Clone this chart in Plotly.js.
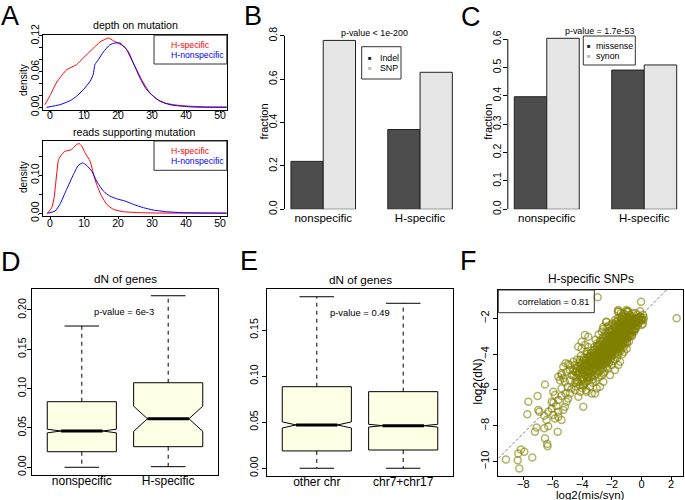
<!DOCTYPE html>
<html><head><meta charset="utf-8">
<script src="https://cdn.plot.ly/plotly-3.0.1.min.js"></script>
<style>html,body{margin:0;padding:0;background:#fff}#chart{width:685px;height:500px}</style>
</head><body><div id="chart"></div>
<script>
// ================= DATA =================
// Panel A: density of depth on mutation
const depthHX = [-1.5, 0, 2.0, 4.9, 7.8, 9.8, 12.3, 14.7, 17.2, 18.6, 20.6, 22.1, 23.5, 25.5, 27.5, 29.4, 31.4, 33.8, 37.3, 41.2, 46.1, 52];
const depthHY = [0.0047, 0.02, 0.0427, 0.0633, 0.0717, 0.083, 0.0968, 0.1097, 0.1164, 0.112, 0.106, 0.1008, 0.0857, 0.0633, 0.041, 0.0243, 0.0142, 0.0075, 0.004, 0.0022, 0.001, 0.0008];
const depthNX = [-1, 2.9, 5.9, 7.8, 9.8, 11.8, 12.7, 13.2, 14.2, 15.7, 17.6, 19.1, 20.6, 22.1, 23, 24.5, 26.5, 28.4, 30.4, 32.4, 35.3, 38.2, 42.2, 52];
const depthNY = [0.0003, 0.0047, 0.0114, 0.0188, 0.0298, 0.0439, 0.055, 0.0717, 0.08, 0.093, 0.105, 0.108, 0.108, 0.0997, 0.094, 0.0745, 0.049, 0.030, 0.0188, 0.0104, 0.0047, 0.0025, 0.0008, 0.0003];
// Panel A: density of reads supporting mutation
const readsHX = [-0.8, 0.5, 1.2, 2.0, 2.5, 3.4, 4.4, 5.9, 6.9, 7.8, 8.6, 9.3, 10.3, 11.8, 12.7, 13.7, 15.2, 16.7, 18.6, 21.6, 26.5, 31.4, 52];
const readsHY = [0, 0.0147, 0.041, 0.106, 0.141, 0.154, 0.163, 0.166, 0.172, 0.181, 0.183, 0.177, 0.159, 0.137, 0.106, 0.076, 0.045, 0.0235, 0.0105, 0.0042, 0.0017, 0.0008, 0.0003];
const readsNX = [-0.8, 1.5, 2.9, 4.9, 6.9, 8.3, 9.6, 10.8, 12.3, 13.7, 15.7, 17.6, 19.6, 22.1, 24.5, 27.5, 30.4, 34.3, 39.2, 52];
const readsNY = [0, 0.006, 0.0235, 0.063, 0.102, 0.1256, 0.1325, 0.1256, 0.1107, 0.0846, 0.0584, 0.0453, 0.0382, 0.0322, 0.0236, 0.0147, 0.0086, 0.0042, 0.0017, 0.0005];
const aXTicks = [0, 10, 20, 30, 40, 50];
const aTopTicks = [0, 0.02, 0.04, 0.06, 0.08, 0.10, 0.12];
const aTopTickText = ['0.00', '', '', '0.06', '', '', '0.12'];
const aBotTicks = [0, 0.05, 0.10, 0.15];
const aBotTickText = ['0.00', '', '0.10', ''];

// Panel B
const barCats = ['nonspecific', 'H-specific'];
const indelFrac = [0.221, 0.368];
const snpFrac = [0.779, 0.632];
const bTicks = [0, 0.2, 0.4, 0.6, 0.8];
const bTickText = ['0.0', '0.2', '0.4', '0.6', '0.8'];
// Panel C
const missenseFrac = [0.397, 0.491];
const synonFrac = [0.603, 0.509];
const cTicks = [0, 0.1, 0.2, 0.3, 0.4, 0.5, 0.6];
const cTickText = ['0.0', '0.1', '0.2', '0.3', '0.4', '0.5', '0.6'];

// Panel D: dN of genes (box stats)
const dCats = ['nonspecific', 'H-specific'];
const dLower = [0, 0.0008];
const dQ1 = [0.0198, 0.0262];
const dMed = [0.0461, 0.0617];
const dQ3 = [0.0834, 0.1075];
const dUpper = [0.1796, 0.2181];
const dNotch = [0.0023, 0.016];
const dTicks = [0, 0.05, 0.10, 0.15, 0.20];
const dTickText = ['0.00', '0.05', '0.10', '0.15', '0.20'];
// Panel E
const eCats = ['other chr', 'chr7+chr17'];
const eLower = [0, 0];
const eQ1 = [0.0188, 0.0198];
const eMed = [0.047, 0.0462];
const eQ3 = [0.0885, 0.0831];
const eUpper = [0.1861, 0.179];
const eNotch = [0.0033, 0.0015];
const eTicks = [0, 0.05, 0.10, 0.15];
const eTickText = ['0.00', '0.05', '0.10', '0.15'];

// Panel F: H-specific SNPs, log2(mis/syn) vs log2(dN)
const fPoints = [
 [-2.97,-0.83],[-0.03,-1.07],[2.38,-2.0],
 [-9.17,-9.88],[-8.38,-9.92],[-8.27,-10.38],[-8.34,-9.54],[-8.16,-9.32],[-7.93,-9.45],[-7.39,-9.77],
 [-7.73,-7.35],[-7.66,-6.66],[-7.03,-6.34],[-6.98,-7.12],[-7.21,-8.33],[-7.10,-8.09],[-6.58,-8.14],[-6.53,-8.70],[-6.38,-9.02],[-6.36,-9.14],
 [-6.53,-5.69],[-6.91,-7.21],[-6.58,-7.44],[-6.42,-7.68],[-6.31,-8.03],[-5.67,-8.33],[-6.31,-7.21],[-5.97,-6.71],[-6.08,-7.03],[-5.97,-7.40],
 [-5.86,-7.59],[-5.63,-7.50],[-5.41,-7.68],[-5.29,-7.12],[-5.18,-6.94],[-5.63,-7.21],[-5.75,-6.90],[-6.08,-6.66],[-5.07,-6.66],[-4.96,-6.47],
 [-5.41,-6.34],[-5.14,-6.19],[-4.84,-6.19],[-5.63,-6.56],[-5.97,-6.10],[-5.86,-6.28],[-5.41,-5.91],[-5.00,-5.82],[-4.73,-5.91],[-4.50,-6.00],
 [-4.16,-5.73],[-3.94,-6.94],[-4.27,-6.38],[-4.39,-5.54],[-4.05,-5.45],[-3.82,-5.63],[-4.84,-5.45],[-5.18,-5.54],[-5.41,-5.07],[-5.07,-4.98],
 [-4.73,-5.17],[-5.52,-5.45],[-5.63,-5.26],[-5.29,-4.70],[-5.14,-4.51],[-4.96,-4.55],[-4.84,-4.89],[-4.50,-4.98],[-4.27,-5.07],[-4.09,-4.61],
 [-3.93,-4.33],[-3.82,-4.70],[-3.70,-4.98],[-3.59,-5.26],[-3.82,-3.49],[-4.05,-3.68],[-3.70,-3.87],[-3.48,-4.14],
 [-1.57,-1.54],[-1.02,-1.54],[-1.21,-1.72],[-1.32,-2.0],[-2.36,-2.19],[-2.58,-2.47],[-2.69,-2.75],[-3.83,-2.93],[-3.60,-3.03],[-4.05,-3.31],
 [-4.28,-3.59],[-2.92,-3.50],[-4.62,-4.42],[-4.17,-4.33],[-4.84,-4.61],[-5.40,-5.17],[-5.29,-5.35],
 [-0.33,-2.0],[-0.10,-1.9],[0.13,-2.09],[0.02,-2.37],[-0.42,-2.56],[-0.64,-2.93],[-0.97,-3.40],[-1.19,-3.86],[-1.45,-4.42],[-1.57,-4.61],
 [-1.79,-4.89],[-2.13,-5.17],[-2.58,-5.54],[-3.03,-5.91],[-3.37,-6.19],[-3.71,-6.10],[-3.94,-5.73],[-3.14,-6.19],[-2.81,-5.82],
 [-1.57,-1.63],[-0.93,-1.63],[-0.10,-2.09],[0.0,-2.1],
 [-4.6,-5.2],[-4.5,-4.6],[-4.45,-5.8],[-4.4,-5.0],[-4.35,-4.3],[-4.3,-5.5],[-4.2,-4.8],[-4.15,-6.1],[-4.1,-5.3],[-4.05,-4.5],[-4.0,-5.9],[-4.0,-4.9],
 [-3.95,-5.4],[-3.9,-4.2],[-3.9,-5.7],[-3.85,-4.8],[-3.8,-5.2],[-3.8,-4.5],[-3.75,-6.0],[-3.7,-5.0],[-3.7,-4.0],[-3.65,-5.5],[-3.6,-4.7],[-3.6,-3.6],
 [-3.55,-5.1],[-3.5,-4.4],[-3.5,-5.8],[-3.5,-4.9],
 [-3.45,-4.1],[-3.45,-5.3],[-3.4,-4.7],[-3.4,-3.8],[-3.35,-5.0],[-3.3,-4.4],[-3.3,-5.6],[-3.25,-4.0],[-3.25,-4.8],[-3.2,-3.6],[-3.2,-5.2],[-3.15,-4.5],
 [-3.1,-4.2],[-3.1,-5.5],[-3.05,-3.9],[-3.05,-4.8],[-3.0,-4.4],[-3.0,-5.1],[-3.0,-3.4],
 [-2.95,-4.0],[-2.95,-4.7],[-2.9,-3.5],[-2.9,-5.3],[-2.85,-4.3],[-2.85,-3.8],[-2.8,-4.9],[-2.8,-4.1],[-2.75,-3.3],[-2.75,-4.6],[-2.7,-3.9],[-2.7,-5.2],
 [-2.65,-4.4],[-2.65,-3.6],[-2.6,-4.0],[-2.6,-4.8],[-2.6,-3.1],[-2.55,-4.2],[-2.55,-3.7],[-2.5,-4.5],[-2.5,-3.4],[-2.5,-5.0],
 [-2.45,-3.9],[-2.45,-3.2],[-2.4,-4.3],[-2.4,-3.6],[-2.4,-2.8],[-2.35,-4.0],[-2.35,-4.7],[-2.3,-3.4],[-2.3,-3.8],[-2.3,-2.5],[-2.25,-4.2],[-2.25,-3.1],
 [-2.2,-3.7],[-2.2,-4.5],[-2.2,-3.0],[-2.15,-3.5],[-2.15,-4.0],[-2.1,-2.7],[-2.1,-3.3],[-2.1,-4.3],[-2.05,-3.8],[-2.05,-3.0],[-2.0,-3.5],[-2.0,-4.1],[-2.0,-2.6],
 [-1.95,-3.2],[-1.95,-3.9],[-1.9,-2.9],[-1.9,-3.5],[-1.9,-4.4],[-1.85,-2.4],[-1.85,-3.7],[-1.8,-3.1],[-1.8,-4.0],[-1.8,-2.7],[-1.75,-3.4],[-1.75,-2.2],
 [-1.7,-3.8],[-1.7,-3.0],[-1.7,-2.5],[-1.65,-3.3],[-1.65,-4.2],[-1.6,-2.8],[-1.6,-3.6],[-1.6,-2.0],[-1.55,-3.1],[-1.55,-3.9],[-1.5,-2.6],[-1.5,-3.4],[-1.5,-2.3],
 [-1.45,-3.0],[-1.45,-3.7],[-1.4,-2.4],[-1.4,-3.2],[-1.4,-2.0],[-1.35,-2.8],[-1.35,-3.5],[-1.3,-2.2],[-1.3,-3.0],[-1.3,-4.0],[-1.25,-2.6],[-1.25,-3.3],
 [-1.2,-1.9],[-1.2,-2.9],[-1.2,-3.6],[-1.15,-2.4],[-1.15,-3.1],[-1.1,-2.7],[-1.1,-2.1],[-1.1,-3.4],[-1.05,-2.5],[-1.05,-3.0],[-1.0,-2.2],[-1.0,-2.8],[-1.0,-3.7],
 [-0.95,-2.4],[-0.95,-3.1],[-0.9,-2.0],[-0.9,-2.7],[-0.85,-2.3],[-0.85,-3.3],[-0.8,-1.8],[-0.8,-2.6],[-0.75,-2.2],[-0.75,-2.9],[-0.7,-2.0],[-0.7,-2.5],
 [-0.65,-3.0],[-0.6,-2.3],[-0.6,-1.9],[-0.55,-2.7],[-0.5,-2.1],[-0.5,-2.4],
 [-0.45,-2.0],[-0.4,-2.6],[-0.35,-2.2],[-0.3,-1.8],[-0.25,-2.4],[-0.2,-2.0],[-0.15,-2.2],[-0.1,-1.9],[0.0,-2.1],[0.05,-2.0],[0.1,-2.3],[0.15,-1.95],
 [-3.4,-4.3],[-3.3,-4.6],[-3.2,-4.1],[-3.1,-4.6],[-3.0,-4.0],[-2.9,-4.2],[-2.8,-3.7],[-2.7,-4.3],[-2.6,-3.8],[-2.5,-4.0],[-2.45,-3.6],[-2.35,-3.5],
 [-2.3,-4.1],[-2.25,-3.4],[-2.2,-3.3],[-2.15,-3.8],[-2.1,-3.6],[-2.05,-3.4],[-2.0,-3.2],[-1.95,-3.6],[-1.9,-3.2],[-1.85,-3.0],[-1.8,-3.5],[-1.75,-3.1],
 [-1.7,-3.4],[-1.65,-2.9],[-1.6,-3.2],[-1.55,-2.7],[-1.5,-3.0],[-1.45,-3.3],[-1.4,-2.8],[-1.35,-3.1],[-1.3,-2.6],[-1.25,-2.9],[-1.2,-2.5],[-1.15,-2.8],
 [-1.1,-2.4],[-1.05,-2.8],[-1.0,-2.5],[-0.95,-2.7],[-0.9,-2.3],[-0.85,-2.7],[-0.8,-2.3],[-0.7,-2.3],[-0.6,-2.6],[-2.75,-4.0],[-2.65,-4.1],[-2.55,-3.9],
 [-2.4,-3.9],[-2.15,-3.2],[-1.95,-2.9],[-1.75,-3.6],[-1.55,-3.4],[-1.35,-2.5],[-1.25,-3.0],[-3.6,-4.4],[-3.75,-4.6],[-3.9,-5.0],
 [-2.6,-2.6],[-2.4,-2.2],[-2.2,-2.4],[-2.9,-2.9],[-3.1,-3.2],[-1.4,-1.7],[-1.6,-1.6],[-1.0,-1.6],[-1.1,-1.8],[-1.3,-1.9],[-0.9,-1.6],[-0.6,-1.7],
 [-0.4,-1.7],[-0.1,-1.6],[0.1,-1.8],[-2.0,-2.3],[-1.8,-2.1],
 [-3.85,-4.55],[-3.8,-4.9],[-3.75,-4.3],[-3.7,-4.65],[-3.65,-4.2],[-3.6,-5.0],[-3.55,-4.6],[-3.5,-4.15],[-3.45,-4.75],[-3.4,-5.2],
 [-3.35,-4.5],[-3.3,-4.1],[-3.25,-4.35],[-3.2,-4.8],[-3.15,-4.05],[-3.1,-4.9],[-3.05,-4.3],[-3.0,-4.7],[-2.95,-4.35],[-2.9,-3.9],
 [-2.85,-4.6],[-2.8,-4.4],[-2.75,-3.75],[-2.7,-4.1],[-2.7,-4.6],[-2.65,-3.85],[-2.6,-4.35],[-2.55,-3.5],[-2.55,-4.55],[-2.5,-3.75],
 [-2.5,-4.25],[-2.45,-4.1],[-2.45,-3.4],[-2.4,-3.75],[-2.4,-4.55],[-2.35,-3.25],[-2.35,-4.2],[-2.3,-3.6],[-2.3,-4.4],[-2.25,-3.85],
 [-2.25,-3.6],[-2.2,-3.5],[-2.2,-4.0],[-2.15,-3.65],[-2.15,-3.0],[-2.1,-3.9],[-2.1,-3.45],[-2.05,-3.65],[-2.05,-4.05],[-2.0,-3.35],
 [-2.0,-3.8],[-1.95,-3.4],[-1.95,-3.05],[-1.9,-3.7],[-1.9,-3.35],[-1.85,-3.25],[-1.85,-3.5],[-1.8,-2.9],[-1.8,-3.3],[-1.8,-3.75],
 [-1.75,-2.9],[-1.75,-3.25],[-1.7,-3.2],[-1.7,-3.6],[-1.7,-2.75],[-1.65,-3.1],[-1.65,-3.5],[-1.6,-3.0],[-1.6,-3.4],[-1.6,-2.55],
 [-1.55,-2.9],[-1.55,-3.25],[-1.5,-2.8],[-1.5,-3.15],[-1.5,-3.6],[-1.45,-2.7],[-1.45,-3.1],[-1.4,-3.0],[-1.4,-2.6],[-1.4,-3.4],
 [-1.35,-2.65],[-1.35,-2.95],[-1.3,-2.8],[-1.3,-3.2],[-1.3,-2.4],[-1.25,-2.75],[-1.25,-2.45],[-1.2,-2.7],[-1.2,-3.1],[-1.2,-2.25],
 [-1.15,-2.6],[-1.15,-2.95],[-1.1,-2.55],[-1.1,-2.9],[-1.05,-2.35],[-1.05,-2.65],[-1.0,-2.4],[-1.0,-2.65],[-1.0,-3.1],[-0.95,-2.55],
 [-0.95,-2.2],[-0.9,-2.5],[-0.9,-2.85],[-0.85,-2.1],[-0.85,-2.5],[-0.8,-2.45],[-0.8,-2.1],[-0.75,-2.4],[-0.75,-2.65],[-0.7,-2.15],
 [-0.65,-2.4],[-0.65,-2.7],[-0.6,-2.1],[-0.55,-2.3],[-0.5,-2.6],[-0.45,-2.3],[-0.4,-2.1],[-0.35,-2.4],[-0.3,-2.05],[-0.2,-2.25],
 [-2.0,-2.9],[-2.2,-2.7],[-2.4,-3.0],[-2.6,-3.3],[-2.8,-3.5],[-3.0,-3.7],[-3.2,-3.9],[-1.8,-2.5],[-1.6,-2.3],[-1.4,-2.2],
 [-1.2,-2.05],[-1.0,-1.95],[-0.8,-1.95],[-2.9,-5.0],[-2.6,-5.1],[-2.3,-4.8],[-2.0,-4.6],[-1.8,-4.3],[-1.6,-4.0],[-1.4,-3.8],
 [-1.2,-3.4],[-1.0,-3.3],[-0.8,-3.0],[-3.3,-5.4],[-3.6,-5.3],[-3.9,-5.5],[-4.2,-5.0],[-4.4,-5.3],[-4.1,-4.1],[-4.3,-4.7],
 [-3.45,-4.45],[-3.35,-4.25],[-3.25,-4.6],[-3.15,-4.3],[-3.05,-4.55],[-2.95,-4.15],[-2.85,-4.05],[-2.75,-4.3],[-2.65,-4.25],[-2.55,-4.05],
 [-2.45,-3.75],[-2.35,-3.85],[-2.25,-3.75],[-2.15,-3.4],[-2.05,-3.55],[-1.95,-3.3],[-1.85,-3.4],[-1.75,-3.0],[-1.65,-3.2],[-1.55,-3.05],
 [-1.45,-2.85],[-1.35,-2.75],[-1.25,-2.55],[-1.15,-2.5],[-1.05,-2.45],[-0.95,-2.35],[-0.85,-2.2],[-0.75,-2.05],[-0.65,-2.2],[-0.55,-2.05],
 [-3.6,-4.1],[-3.4,-3.95],[-3.2,-3.75],[-3.0,-3.55],[-2.8,-3.25],[-2.6,-3.05],[-2.4,-2.95],[-2.2,-2.8],[-2.0,-2.75],[-1.8,-2.35],
 [-1.6,-2.15],[-1.4,-2.5],[-1.2,-2.35],[-3.7,-5.3],[-3.5,-5.1],[-3.3,-4.9],[-3.1,-4.75],[-2.9,-4.55],[-2.7,-4.45],[-2.5,-4.35],
 [-2.3,-4.2],[-2.1,-4.15],[-1.9,-3.85],[-1.7,-3.7],[-1.5,-3.5],[-1.3,-3.35],[-1.1,-3.2],[-0.9,-2.95],[-0.7,-2.8],[-0.5,-2.75],
 [-4.5,-5.6],[-4.3,-5.1],[-4.1,-4.85],[-4.0,-5.1],[-3.95,-4.7],[-4.2,-4.5],[-4.4,-4.8],[-4.6,-4.9]
];
const fFitIntercept = -1.82;
const fFitSlope = 0.825;
const fXTicks = [-8, -6, -4, -2, 0, 2];
const fYTicks = [-10, -8, -6, -4, -2];

// ================= LAYOUT HELPERS =================
const FONT = 'Liberation Sans, Arial, Helvetica, sans-serif';
const W = 685, H = 500;
const fx = p => p / W;
const fy = p => 1 - p / H;
// plot rectangles in px: [left, right, top, bottom]
const rA1 = [43.2, 226.8, 35.2, 110.3];
const rA2 = [43.2, 226.8, 141, 216.1];
const rB = [284.5, 458.8, 33.7, 209.3];
const rC = [507.8, 683.2, 34.9, 209.3];
const rD = [31.7, 218.3, 289.3, 475];
const rE = [266.7, 453.3, 289, 476];
const rF = [498.3, 683.3, 290, 476];

function ax(r, isX, opts) {
  return Object.assign({
    domain: isX ? [fx(r[0]), fx(r[1])] : [fy(r[3]), fy(r[2])],
    showgrid: false, zeroline: false, showline: true, mirror: true,
    linecolor: '#000', linewidth: 1, ticks: 'outside', ticklen: 4, tickwidth: 1, tickcolor: '#000',
    tickfont: {family: FONT, size: 10.5, color: '#000'}, fixedrange: true, automargin: false
  }, opts);
}

const traces = [];
// ---- A ----
traces.push({type:'scatter', mode:'lines', x:depthHX, y:depthHY, xaxis:'x', yaxis:'y', line:{color:'#FF0000', width:1, shape:'spline', smoothing:0.5}, hoverinfo:'skip'});
traces.push({type:'scatter', mode:'lines', x:depthNX, y:depthNY, xaxis:'x', yaxis:'y', line:{color:'#0000FF', width:1, shape:'spline', smoothing:0.5}, hoverinfo:'skip'});
traces.push({type:'scatter', mode:'lines', x:readsHX, y:readsHY, xaxis:'x2', yaxis:'y2', line:{color:'#FF0000', width:1, shape:'spline', smoothing:0.5}, hoverinfo:'skip'});
traces.push({type:'scatter', mode:'lines', x:readsNX, y:readsNY, xaxis:'x2', yaxis:'y2', line:{color:'#0000FF', width:1, shape:'spline', smoothing:0.5}, hoverinfo:'skip'});
// ---- B / C ----
const darkBar = '#4D4D4D', lightBar = '#E6E6E6';
traces.push({type:'bar', x:barCats, y:indelFrac, xaxis:'x3', yaxis:'y3', marker:{color:darkBar, line:{color:'#222', width:1}}});
traces.push({type:'bar', x:barCats, y:snpFrac, xaxis:'x3', yaxis:'y3', marker:{color:lightBar, line:{color:'#222', width:1}}});
traces.push({type:'bar', x:barCats, y:missenseFrac, xaxis:'x4', yaxis:'y4', marker:{color:darkBar, line:{color:'#222', width:1}}});
traces.push({type:'bar', x:barCats, y:synonFrac, xaxis:'x4', yaxis:'y4', marker:{color:lightBar, line:{color:'#222', width:1}}});
// ---- D / E boxplots ----
const boxW = 0.8, notchW = 0.2, capHalf = 0.2;
const medHalf = boxW / 2 * (1 - 2 * notchW);
function addBoxes(cats, lower, q1, med, q3, upper, notch, xa, ya) {
  const pos = cats.map((c, i) => i + 1);
  const wx = [], wy = [], cx = [], cy = [], mx = [], my = [];
  pos.forEach((p, i) => {
    wx.push(p, p, null, p, p, null); wy.push(q3[i], upper[i], null, q1[i], lower[i], null);
    cx.push(p - capHalf, p + capHalf, null, p - capHalf, p + capHalf, null);
    cy.push(upper[i], upper[i], null, lower[i], lower[i], null);
    mx.push(p - medHalf, p + medHalf, null); my.push(med[i], med[i], null);
  });
  traces.push({type:'scatter', mode:'lines', x:wx, y:wy, xaxis:xa, yaxis:ya, line:{color:'#000', width:1, dash:'4px,4px'}, hoverinfo:'skip'});
  traces.push({type:'scatter', mode:'lines', x:cx, y:cy, xaxis:xa, yaxis:ya, line:{color:'#000', width:1}, hoverinfo:'skip'});
  traces.push({type:'box', x:pos, q1:q1, median:med, q3:q3, lowerfence:q1, upperfence:q3, notched:true, notchspan:notch, notchwidth:notchW,
    width:boxW, whiskerwidth:0, fillcolor:'#FFFFE6', line:{color:'#000', width:1}, boxpoints:false, xaxis:xa, yaxis:ya, hoverinfo:'skip'});
  traces.push({type:'scatter', mode:'lines', x:mx, y:my, xaxis:xa, yaxis:ya, line:{color:'#000', width:3}, hoverinfo:'skip'});
}
addBoxes(dCats, dLower, dQ1, dMed, dQ3, dUpper, dNotch, 'x5', 'y5');
addBoxes(eCats, eLower, eQ1, eMed, eQ3, eUpper, eNotch, 'x6', 'y6');
// ---- F ----
const fxRange = [-9.69, 2.83];
traces.push({type:'scatter', mode:'lines', x:fxRange, y:fxRange.map(v => fFitIntercept + fFitSlope * v), xaxis:'x7', yaxis:'y7',
  line:{color:'#555', width:0.8, dash:'3px,2px'}, hoverinfo:'skip'});
traces.push({type:'scatter', mode:'markers', x:fPoints.map(p => p[0]), y:fPoints.map(p => p[1]), xaxis:'x7', yaxis:'y7',
  marker:{symbol:'circle-open', size:7, color:'rgba(128,128,0,0.6)', line:{width:1.5}}, hoverinfo:'skip'});

// ================= ANNOTATIONS / SHAPES =================
const ann = [];
function txt(t, x, y, size, opts) {
  ann.push(Object.assign({text:t, x:fx(x), y:fy(y), xref:'paper', yref:'paper', showarrow:false, xanchor:'center', yanchor:'middle',
    font:{family:FONT, size:size, color:'#000'}}, opts || {}));
}
const letterFont = 'Liberation Sans, Arial, sans-serif';
[['A',10,0],['B',253,0],['C',471,1]].forEach(l =>
  txt(l[0], l[1], l[2], 27, {yanchor:'top', borderpad:0, font:{family:letterFont, size:27, color:'#000'}}));
[['D',11,262],['E',249,261],['F',468,261]].forEach(l =>
  txt(l[0], l[1], l[2], 27, {borderpad:0, font:{family:letterFont, size:27, color:'#000'}}));
txt('depth on mutation', 135, 25, 10.6);
txt('reads supporting mutation', 134, 132, 10.6);
txt('density', 23, 80, 10, {textangle:-90});
txt('density', 23, 177, 10, {textangle:-90});
txt('H-specific', 169.3, 44.7, 8.7, {xanchor:'left', font:{family:FONT, size:8.7, color:'#FF0000'}});
txt('H-nonspecific', 169.3, 55.3, 8.7, {xanchor:'left', font:{family:FONT, size:8.7, color:'#0000FF'}});
txt('H-specific', 169.3, 151, 8.7, {xanchor:'left', font:{family:FONT, size:8.7, color:'#FF0000'}});
txt('H-nonspecific', 169.3, 161.3, 8.7, {xanchor:'left', font:{family:FONT, size:8.7, color:'#0000FF'}});
txt('fraction', 263.5, 122, 11, {textangle:-90});
txt('fraction', 487.8, 122, 11, {textangle:-90});
txt('p-value < 1e-200', 374.7, 33.3, 8.9);
txt('p-value = 1.7e-53', 599.2, 30.8, 8.9);
txt('■', 370.3, 57.7, 6, {font:{family:FONT, size:6, color:'#222'}});
txt('■', 370.3, 68.3, 6, {font:{family:FONT, size:6, color:'#BBBBBB'}});
txt('Indel', 378.3, 57.7, 8.8, {xanchor:'left'});
txt('SNP', 378.3, 68.3, 8.8, {xanchor:'left'});
txt('■', 589.3, 45.7, 6, {font:{family:FONT, size:6, color:'#222'}});
txt('■', 589.3, 55.7, 6, {font:{family:FONT, size:6, color:'#BBBBBB'}});
txt('missense', 593.5, 45.7, 8.8, {xanchor:'left'});
txt('synon', 593.5, 55.7, 8.8, {xanchor:'left'});
txt('dN of genes', 125, 278.3, 11.7);
txt('dN of genes', 360, 279.3, 11.7);
txt('p-value = 6e-3', 124, 311, 9.4);
txt('p-value = 0.49', 360, 312.3, 9.4);
txt('H-specific SNPs', 590.7, 279.3, 11.9);
txt('correlation = 0.81', 553, 302.3, 9.2);
txt('log2(dN)', 477.5, 382, 12, {textangle:-90});
txt('log2(mis/syn)', 590, 494.5, 11.5, {borderpad:0});

const shapes = [];
function rect(x0, x1, y0, y1) {
  shapes.push({type:'rect', xref:'paper', yref:'paper', x0:fx(x0), x1:fx(x1), y0:fy(y1), y1:fy(y0), line:{color:'#333', width:1}, fillcolor:'rgba(0,0,0,0)'});
}
rect(154, 226.8, 35.2, 64);
rect(154, 226.8, 141, 170.3);
rect(361.7, 401, 46.7, 79);
rect(583.3, 635.3, 36, 65);
rect(498.3, 594.3, 290, 312.7);
shapes.push({type:'line', xref:'x3 domain', yref:'y3', x0:0, x1:0, y0:bTicks[0], y1:bTicks[bTicks.length-1], line:{color:'#000', width:1}});
shapes.push({type:'line', xref:'x4 domain', yref:'y4', x0:0, x1:0, y0:cTicks[0], y1:cTicks[cTicks.length-1], line:{color:'#000', width:1}});

const layout = {
  width: W, height: H, margin:{l:0, r:0, t:0, b:0}, paper_bgcolor:'#fff', plot_bgcolor:'rgba(0,0,0,0)',
  showlegend:false, barmode:'group', bargap:1/3, bargroupgap:0, font:{family:FONT, color:'#000'},
  xaxis:  ax(rA1, true,  {range:[-2, 52], tickvals:aXTicks, anchor:'y', ticklen:2, ticklabelstandoff:-7}),
  yaxis:  ax(rA1, false, {range:[-0.00466, 0.1211], tickvals:aTopTicks, ticktext:aTopTickText, tickangle:-90, anchor:'x', ticklen:3, ticklabelstandoff:-4}),
  xaxis2: ax(rA2, true,  {range:[-2, 52], tickvals:aXTicks, anchor:'y2', ticklen:2, ticklabelstandoff:-5}),
  yaxis2: ax(rA2, false, {range:[-0.0073, 0.190], tickvals:aBotTicks, ticktext:aBotTickText, tickangle:-90, anchor:'x2', ticklen:3, ticklabelstandoff:-4}),
  xaxis3: ax(rB, true,  {type:'category', range:[-0.4, 1.4], showline:false, mirror:false, ticks:'', anchor:'y3', tickfont:{family:FONT, size:11.5, color:'#000'}}),
  yaxis3: ax(rB, false, {range:[0, 0.81], tickvals:bTicks, ticktext:bTickText, tickangle:-90, showline:false, mirror:false, anchor:'x3', ticklabelstandoff:-2}),
  xaxis4: ax(rC, true,  {type:'category', range:[-0.4, 1.4], showline:false, mirror:false, ticks:'', anchor:'y4', tickfont:{family:FONT, size:11.5, color:'#000'}}),
  yaxis4: ax(rC, false, {range:[0, 0.615], tickvals:cTicks, ticktext:cTickText, tickangle:-90, showline:false, mirror:false, anchor:'x4', ticklabelstandoff:-2}),
  xaxis5: ax(rD, true,  {range:[0.42, 2.58], tickvals:[1, 2], ticktext:dCats, ticks:'', anchor:'y5', ticklabelstandoff:-5, tickfont:{family:FONT, size:12, color:'#000'}}),
  yaxis5: ax(rD, false, {range:[-0.0098, 0.2263], tickvals:dTicks, ticktext:dTickText, tickangle:-90, anchor:'x5', ticklabelstandoff:-3}),
  xaxis6: ax(rE, true,  {range:[0.42, 2.58], tickvals:[1, 2], ticktext:eCats, ticks:'', anchor:'y6', ticklabelstandoff:-5, tickfont:{family:FONT, size:12, color:'#000'}}),
  yaxis6: ax(rE, false, {range:[-0.0084, 0.1945], tickvals:eTicks, ticktext:eTickText, tickangle:-90, anchor:'x6'}),
  xaxis7: ax(rF, true,  {range:fxRange, tickvals:fXTicks, anchor:'y7', ticklen:3, ticklabelstandoff:-5, tickfont:{family:FONT, size:11, color:'#000'}}),
  yaxis7: ax(rF, false, {range:[-10.8, -0.42], tickvals:fYTicks, tickangle:-90, anchor:'x7', tickfont:{family:FONT, size:11, color:'#000'}}),
  annotations: ann, shapes: shapes
};
Plotly.newPlot('chart', traces, layout, {staticPlot:true, displayModeBar:false});
</script>
</body></html>
